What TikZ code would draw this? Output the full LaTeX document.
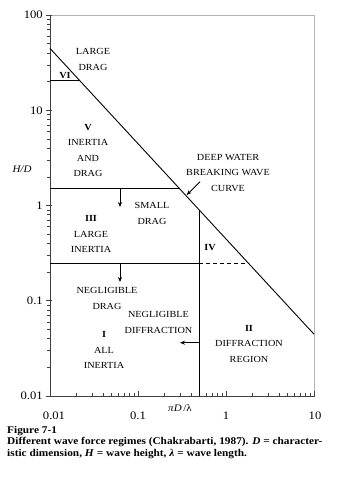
\documentclass[tikz,border=0pt]{standalone}
\usepackage{fontspec}
\setmainfont{Liberation Serif}[FakeStretch=1.1]
\usetikzlibrary{arrows.meta}
\begin{document}
\begin{tikzpicture}[x=1pt,y=-1pt,
  lbl/.style={font=\fontsize{9.3}{15.5}\selectfont, inner sep=0pt, align=center},
  num/.style={font=\fontsize{11.5}{12}\selectfont, inner sep=0pt},
  curve/.style={line width=0.9pt, black},
  arr/.style={line width=0.8pt, -{Stealth[length=5pt,width=4pt]}},
  tick/.style={line width=0.6pt, black!75}]
\useasboundingbox (0,0) rectangle (358,477);
% frame
\draw[gray!60, line width=0.8pt] (50,15) -- (314,15) -- (314,396);
\draw[black!75, line width=0.8pt] (50,15) -- (50,396) -- (314,396);
% y ticks
\foreach \k in {0,...,4} \draw[tick] (46,{15+95.25*\k}) -- (52,{15+95.25*\k});
\foreach \e in {-2,-1,0,1} \foreach \m in {2,...,9}
  \draw[tick] (47,{15+95.25*(2-\e-log10(\m))}) -- (51,{15+95.25*(2-\e-log10(\m))});
% x ticks
\foreach \k in {0,...,3} \draw[tick] ({50+88*\k},391) -- ({50+88*\k},397);
\foreach \e in {-2,-1,0} \foreach \m in {2,...,9}
  \draw[tick] ({50+88*(\e+2+log10(\m))},392.5) -- ({50+88*(\e+2+log10(\m))},396.5);
% tick labels
\node[num, anchor=east] (y100) at (43,15) {100};
\node[num, anchor=east] (y10) at (43,110.25) {10};
\node[num, anchor=east] (y1) at (43,205.5) {1};
\node[num, anchor=east] (y01) at (43,300.75) {0.1};
\node[num, anchor=east] (y001) at (43,396) {0.01};
\node[num] (x001) at (54,416) {0.01};
\node[num] (x01) at (138,416) {0.1};
\node[num] (x1) at (226,416) {1};
\node[num] (x10) at (315,416) {10};
\node[font=\fontsize{10}{12}\selectfont\itshape, inner sep=0pt] (ylab) at (22,169) {H/D};
\node[font=\fontsize{10}{12}\selectfont, inner sep=0pt] (xlab) at (180,408) {\textit{πD}\,/λ};
% boundary coordinates
\coordinate (bw0) at (50,48.4);
\coordinate (bw1) at (314,334.2);
\coordinate (a0) at (50,80);    \coordinate (a1) at (79.2,80);
\coordinate (b0) at (50,188.3); \coordinate (b1) at (179.2,188.3);
\coordinate (c0) at (50,263.3); \coordinate (c1) at (199,263.3); \coordinate (c2) at (248.5,263.3);
\coordinate (v0) at (199,396);  \coordinate (v1) at (199,209.7);
\draw[curve] (bw0) -- (bw1);
\draw[curve] (a0) -- (a1);
\draw[curve] (b0) -- (b1);
\draw[curve] (c0) -- (c1);
\draw[curve, dash pattern=on 4pt off 3pt] (c1) -- (c2);
\draw[curve] (v0) -- (v1);
% arrows
\coordinate (d1s) at (120,188.3); \coordinate (d1e) at (120,207);
\coordinate (d2s) at (120,263.3); \coordinate (d2e) at (120,282);
\coordinate (ls) at (199,342.7);  \coordinate (le) at (180,342.7);
\coordinate (bs) at (200,181.7);  \coordinate (be) at (186.7,195);
\draw[arr] (d1s) -- (d1e);
\draw[arr] (d2s) -- (d2e);
\draw[arr] (ls) -- (le);
\draw[arr] (bs) -- (be);
% region labels
\node[lbl] (ld) at (93,59.5) {LARGE\\DRAG};
\node[lbl, font=\fontsize{9.3}{15.5}\selectfont\bfseries] (r6) at (65,76) {VI};
\node[lbl] (r5) at (88,150.5) {\textbf{V}\\INERTIA\\AND\\DRAG};
\node[lbl] (r3) at (91,234) {\textbf{III}\\LARGE\\INERTIA};
\node[lbl] (sd) at (152,213.5) {SMALL\\DRAG};
\node[lbl] (nd) at (107,298.5) {NEGLIGIBLE\\DRAG};
\node[lbl] (ndf) at (158.5,322.5) {NEGLIGIBLE\\DIFFRACTION};
\node[lbl] (r1) at (104,350) {\textbf{I}\\ALL\\INERTIA};
\node[lbl] (r2) at (249,343.5) {\textbf{II}\\DIFFRACTION\\REGION};
\node[lbl, font=\fontsize{9.3}{15.5}\selectfont\bfseries] (r4) at (210,248) {IV};
\node[lbl] (dw) at (228,172.5) {DEEP WATER\\BREAKING WAVE\\CURVE};
% caption
\node[anchor=north west, inner sep=0pt, align=left, font=\fontsize{10.3}{11.5}\selectfont\bfseries] (cap) at (7,426)
 {Figure 7-1\\Different wave force regimes (Chakrabarti, 1987). \textit{D} = character-\\istic dimension, \textit{H} = wave height, \textit{λ} = wave length.};
\end{tikzpicture}
\end{document}
